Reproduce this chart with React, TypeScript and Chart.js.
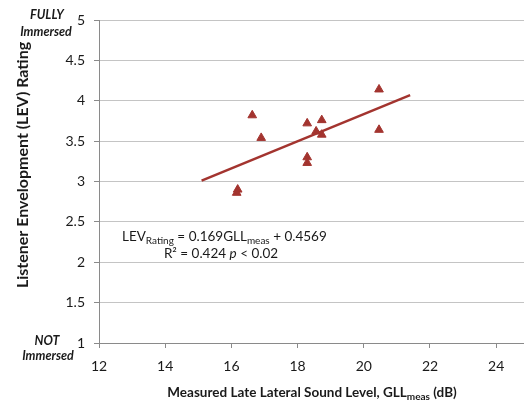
import React, { useEffect, useRef } from "react";
import { Chart, registerables } from "chart.js";

Chart.register(...registerables);

// Measured late lateral sound level GLL_meas (dB)
const gllMeas = [20.46, 20.46, 16.63, 16.9, 18.29, 18.73, 18.56, 18.73, 18.29, 18.29, 16.19, 16.16];
// Listener envelopment rating
const levRating = [4.14, 3.64, 3.82, 3.54, 3.72, 3.76, 3.62, 3.58, 3.3, 3.23, 2.9, 2.86];
// Linear trend line end points
const trendX = [15.1, 21.4];
const trendY = [3.01, 4.07];

const xTitleMain = "Measured Late Lateral Sound Level, GLL";
const xTitleSub = "meas";
const xTitleEnd = " (dB)";
const yTitle = "Listener Envelopment (LEV) Rating";
const topLabel = ["FULLY", "Immersed"];
const bottomLabel = ["NOT", "Immersed"];

const FONT = "Lato, 'Open Sans', sans-serif";
const RED = "#A3342F";
const TEXT = "#1a1a1a";

type Seg = { text: string; font: string; dy?: number };

function drawRich(ctx: CanvasRenderingContext2D, segs: Seg[], x: number, y: number, align: "left" | "center") {
  let total = 0;
  for (const s of segs) {
    ctx.font = s.font;
    total += ctx.measureText(s.text).width;
  }
  let cx = align === "center" ? x - total / 2 : x;
  ctx.textAlign = "left";
  ctx.textBaseline = "alphabetic";
  for (const s of segs) {
    ctx.font = s.font;
    ctx.fillText(s.text, cx, y + (s.dy || 0));
    cx += ctx.measureText(s.text).width;
  }
}

const annotations = {
  id: "annotations",
  afterDraw(chart: any) {
    const ctx = chart.ctx as CanvasRenderingContext2D;
    ctx.save();
    ctx.fillStyle = TEXT;
    // Y title
    ctx.save();
    ctx.translate(28, 165);
    ctx.rotate(-Math.PI / 2);
    ctx.font = `bold 16px ${FONT}`;
    ctx.textAlign = "center";
    ctx.textBaseline = "alphabetic";
    ctx.fillText(yTitle, 0, 0);
    ctx.restore();
    // X title
    const b = `bold 13.5px ${FONT}`;
    const bs = `bold 10px ${FONT}`;
    drawRich(ctx, [
      { text: xTitleMain, font: b },
      { text: xTitleSub, font: bs, dy: 3 },
      { text: xTitleEnd, font: b },
    ], 312, 397, "center");
    // Immersed labels
    ctx.font = `italic bold 12.5px ${FONT}`;
    ctx.textAlign = "center";
    ctx.fillText(topLabel[0], 47, 19);
    ctx.fillText(topLabel[1], 46, 36);
    ctx.fillText(bottomLabel[0], 47, 345);
    ctx.fillText(bottomLabel[1], 48, 360);
    // Equation
    const r = `13.5px ${FONT}`;
    const rs = `10px ${FONT}`;
    drawRich(ctx, [
      { text: "LEV", font: r },
      { text: "Rating", font: rs, dy: 3 },
      { text: " = 0.169GLL", font: r },
      { text: "meas", font: rs, dy: 3 },
      { text: " + 0.4569", font: r },
    ], 122, 241, "left");
    drawRich(ctx, [
      { text: "R² = 0.424 ", font: r },
      { text: "p", font: `italic 13.5px ${FONT}` },
      { text: " < 0.02", font: r },
    ], 221, 258, "center");
    ctx.restore();
  },
};

export default function App() {
  const ref = useRef<HTMLCanvasElement>(null);
  useEffect(() => {
    if (!ref.current) return;
    const chart = new Chart(ref.current, {
      type: "scatter",
      data: {
        datasets: [
          {
            label: "LEV",
            data: gllMeas.map((x, i) => ({ x, y: levRating[i] })),
            pointStyle: "triangle",
            pointRadius: 5,
            backgroundColor: RED,
            borderColor: RED,
            borderWidth: 1,
          },
          {
            label: "Trend",
            data: trendX.map((x, i) => ({ x, y: trendY[i] })),
            showLine: true,
            pointRadius: 0,
            borderColor: RED,
            borderWidth: 2.5,
          },
        ],
      },
      options: {
        responsive: false,
        animation: false,
        layout: { autoPadding: false, padding: { top: 20, left: 0, right: 0, bottom: 0 } },
        plugins: { legend: { display: false }, tooltip: { enabled: false } },
        scales: {
          x: {
            type: "linear",
            min: 12,
            max: 24.84,
            ticks: {
              stepSize: 2,
              includeBounds: false,
              color: TEXT,
              font: { family: FONT, size: 14 },
              padding: 10,
              maxRotation: 0,
            },
            grid: { drawOnChartArea: false, tickLength: 5, color: "#8a8a8a" },
            border: { color: "#8a8a8a" },
            afterFit: (s: any) => {
              s.height = 57;
              s.paddingRight = 0;
              s.paddingLeft = 0;
            },
          },
          y: {
            min: 1,
            max: 5,
            ticks: {
              stepSize: 0.5,
              color: TEXT,
              font: { family: FONT, size: 14 },
              padding: 9,
              callback: (v: any) => String(v),
            },
            grid: { color: "#c4c4c4", tickLength: 5, tickColor: "#8a8a8a" },
            border: { color: "#8a8a8a" },
            afterFit: (s: any) => {
              s.width = 99;
            },
          },
        },
      },
      plugins: [annotations],
    });
    return () => chart.destroy();
  }, []);
  return (
    <div style={{ position: "absolute", left: 0, top: 0, width: 524, height: 400, background: "#fff" }}>
      <canvas ref={ref} width={524} height={400} style={{ display: "block" }} />
    </div>
  );
}
